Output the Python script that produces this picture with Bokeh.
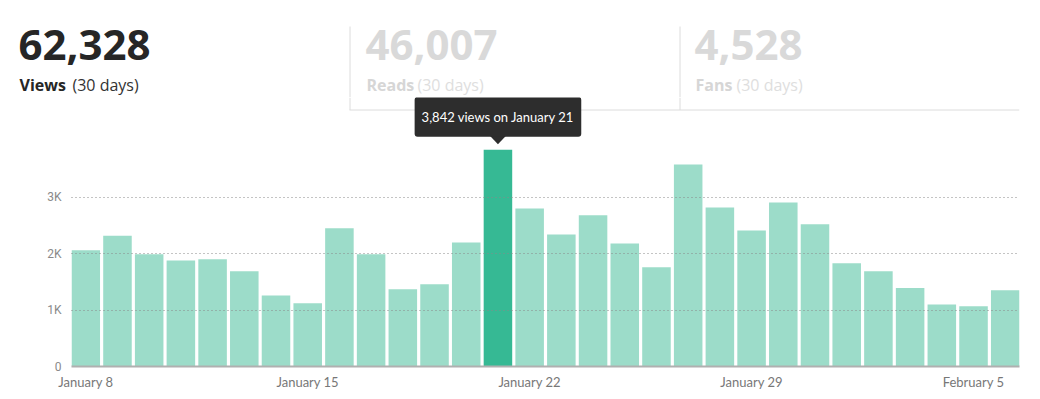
from bokeh.plotting import figure
from bokeh.models import ColumnDataSource, Range1d, FixedTicker, Label
from bokeh.core.properties import value
from bokeh.embed import file_html
from bokeh.resources import INLINE

# ---------------- data ----------------
days = ["January 8", "January 9", "January 10", "January 11", "January 12",
        "January 13", "January 14", "January 15", "January 16", "January 17",
        "January 18", "January 19", "January 20", "January 21", "January 22",
        "January 23", "January 24", "January 25", "January 26", "January 27",
        "January 28", "January 29", "January 30", "January 31", "February 1",
        "February 2", "February 3", "February 4", "February 5", "February 6"]
views = [2060, 2320, 1990, 1880, 1900, 1690, 1260, 1120, 2450, 1990,
         1370, 1460, 2200, 3842, 2800, 2340, 2680, 2180, 1760, 3580,
         2820, 2410, 2910, 2520, 1830, 1690, 1390, 1100, 1070, 1350]
x_tick_days = ["January 8", "January 15", "January 22", "January 29", "February 5"]
y_ticks = [0, 1000, 2000, 3000]
y_tick_labels = ["0", "1K", "2K", "3K"]
stat_values = ["62,328", "46,007", "4,528"]
stat_names = ["Views", "Reads", "Fans"]
stat_period = "(30 days)"

# ---------------- layout constants ----------------
W = 1040
HEAD_H = 97
CHART_H = 399 - HEAD_H
BORDER_L, BORDER_R, BORDER_T, BORDER_B = 71, 21, 0, 33
FRAME_W = W - BORDER_L - BORDER_R
FRAME_H = CHART_H - BORDER_T - BORDER_B
BAR_W = 0.9
PX_PER_K = 56.4
Y_MAX = FRAME_H / PX_PER_K * 1000
BASE = "#9cdcc9"
HILITE = "#36b994"
LINE = "#dcdcdc"
TIP_BG = "#2d2d2d"

# ---------------- header figure ----------------
head = figure(width=W, height=HEAD_H, output_backend="svg", toolbar_location=None,
              x_range=Range1d(0, W), y_range=Range1d(HEAD_H, 0),
              min_border=0, min_border_left=0, min_border_right=0,
              min_border_top=0, min_border_bottom=0)
head.axis.visible = False
head.grid.visible = False
head.outline_line_color = None

col_x = [18, 365, 694]
num_colors = ["#262626", "#d9d9d9", "#d9d9d9"]
name_colors = ["#262626", "#d6d6d6", "#d6d6d6"]
period_colors = ["#333333", "#dedede", "#dedede"]
period_x = [72, 417, 736]
NUM_Y, NAME_Y = 44, 84.5

head.text(x=col_x, y=[NUM_Y] * 3, text=stat_values, text_color=num_colors,
          text_font=value("Open Sans"), text_font_style="bold",
          text_font_size="42px", text_baseline="alphabetic")
head.text(x=[x + 1 for x in col_x], y=[NAME_Y] * 3, text=stat_names,
          text_color=name_colors, text_font=value("Open Sans"),
          text_font_style="bold", text_font_size="16px", text_baseline="alphabetic")
head.text(x=period_x, y=[NAME_Y] * 3, text=[stat_period] * 3,
          text_color=period_colors, text_font=value("Open Sans"),
          text_font_size="16px", text_baseline="alphabetic")
head.segment(x0=[349.5, 679.5], y0=[26, 26], x1=[349.5, 679.5], y1=[HEAD_H, HEAD_H],
             line_color=LINE, line_width=1)

# ---------------- chart figure ----------------
hi = max(range(len(views)), key=lambda i: views[i])
xs = list(range(len(views)))
colors = [HILITE if i == hi else BASE for i in xs]
src = ColumnDataSource(dict(x=xs, top=views, color=colors, day=days))

p = figure(width=W, height=CHART_H, output_backend="svg", toolbar_location=None,
           x_range=Range1d(-BAR_W / 2, len(views) - 1 + BAR_W / 2),
           y_range=Range1d(0, Y_MAX),
           min_border_left=BORDER_L, min_border_right=BORDER_R,
           min_border_top=BORDER_T, min_border_bottom=BORDER_B)
p.outline_line_color = None

# pixel-space ranges for the header's frame lines that reach into this figure
p.extra_x_ranges = {"px": Range1d(BORDER_L, W - BORDER_R)}
p.extra_y_ranges = {"py": Range1d(HEAD_H + FRAME_H, HEAD_H)}
p.segment(x0=[349.5, 679.5, 349], y0=[HEAD_H, HEAD_H, 109.5],
          x1=[349.5, 679.5, 1019], y1=[109.5, 109.5, 109.5],
          line_color=LINE, line_width=1, x_range_name="px", y_range_name="py")

p.vbar(x="x", top="top", bottom=0, width=BAR_W, color="color", source=src,
       line_color=None)

# axes
p.xaxis.ticker = FixedTicker(ticks=[days.index(d) for d in x_tick_days])
p.xaxis.major_label_overrides = {days.index(d): d for d in x_tick_days}
p.xaxis.axis_line_color = "#b0b0b0"
p.xaxis.axis_line_width = 2
p.xaxis.major_tick_line_color = None
p.xaxis.minor_tick_line_color = None
p.xaxis.major_label_text_font = "Lato"
p.xaxis.major_label_text_font_size = "13px"
p.xaxis.major_label_text_color = "#777777"
p.xaxis.major_label_standoff = 1

p.yaxis.ticker = FixedTicker(ticks=y_ticks)
p.yaxis.major_label_overrides = dict(zip(y_ticks, y_tick_labels))
p.yaxis.axis_line_color = None
p.yaxis.major_tick_line_color = None
p.yaxis.minor_tick_line_color = None
p.yaxis.major_label_text_font = "Roboto"
p.yaxis.major_label_text_font_size = "12px"
p.yaxis.major_label_text_color = "#8a8a8a"
p.yaxis.major_label_standoff = 4

p.xgrid.grid_line_color = None
p.ygrid.grid_line_color = "#888888"
p.ygrid.grid_line_dash = "1 3"
p.ygrid.grid_line_width = 1
p.ygrid.level = "overlay"

# tooltip on highlighted bar
px_y = Y_MAX / FRAME_H
px_x = (len(views) - 1 + BAR_W) / FRAME_W
p.patch(x=[hi - 10 * px_x, hi + 10 * px_x, hi],
        y=[views[hi] + 16 * px_y, views[hi] + 16 * px_y, views[hi] + 5.5 * px_y],
        color=TIP_BG, line_color=None)
tip = Label(x=hi, y=views[hi] + 33 * px_y,
            text=f"{views[hi]:,} views on {days[hi]}",
            text_font="Lato", text_font_size="13px", text_color="white",
            text_align="center", text_baseline="middle",
            background_fill_color=TIP_BG,
            padding=dict(left=7, right=7, top=12, bottom=12), border_radius=3)
p.add_layout(tip)

open("out.html", "w").write(file_html([head, p], INLINE))
